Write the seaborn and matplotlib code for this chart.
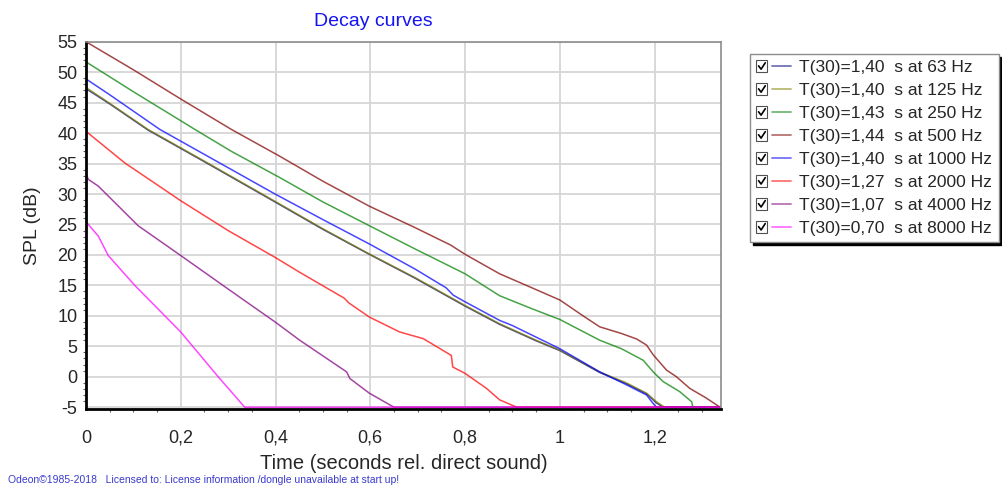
import matplotlib
matplotlib.use('Agg')
import matplotlib.pyplot as plt
from matplotlib.lines import Line2D
from matplotlib.patches import Rectangle
from matplotlib.legend_handler import HandlerBase
from matplotlib.ticker import MultipleLocator, FuncFormatter
import seaborn as sns
import pandas as pd

# Bandas de octava y tiempos de reverberacion T(30)
BANDAS = [63, 125, 250, 500, 1000, 2000, 4000, 8000]
T30 = [1.40, 1.40, 1.43, 1.44, 1.40, 1.27, 1.07, 0.70]
COLORES = ['#000080', '#808000', '#008000', '#800000',
           '#0000FF', '#FF0000', '#800080', '#FF00FF']

# Curvas de decaimiento (tiempo en s, SPL en dB)
t_63 = [0, 0.05, 0.131, 0.25, 0.399, 0.5, 0.598, 0.694, 0.8, 0.873, 0.95, 1.0, 1.084, 1.14, 1.183, 1.204, 1.218, 1.34]
spl_63 = [47.3, 44.8, 40.5, 35.3, 28.7, 24.2, 20.1, 16.2, 11.6, 8.6, 5.9, 4.3, 0.7, -1.1, -2.8, -4.3, -5.0, -5.0]

t_125 = [0, 0.05, 0.131, 0.25, 0.399, 0.5, 0.598, 0.694, 0.8, 0.873, 0.95, 1.0, 1.084, 1.14, 1.183, 1.204, 1.221, 1.34]
spl_125 = [47.5, 44.9, 40.6, 35.4, 28.8, 24.3, 20.15, 16.3, 11.7, 8.7, 6.0, 4.35, 0.8, -1.0, -2.7, -4.1, -5.0, -5.0]

t_250 = [0, 0.1, 0.23, 0.307, 0.409, 0.5, 0.598, 0.694, 0.8, 0.873, 0.94, 1.0, 1.084, 1.13, 1.176, 1.197, 1.218, 1.253, 1.278, 1.281, 1.34]
spl_250 = [51.7, 46.8, 40.6, 37.0, 32.7, 28.7, 24.8, 21.0, 16.9, 13.3, 11.2, 9.4, 6.0, 4.6, 2.7, 0.8, -0.8, -2.45, -4.1, -5.0, -5.0]

t_500 = [0, 0.05, 0.1, 0.2, 0.307, 0.409, 0.5, 0.598, 0.694, 0.77, 0.8, 0.873, 0.95, 1.0, 1.049, 1.084, 1.13, 1.162, 1.183, 1.197, 1.225, 1.246, 1.274, 1.309, 1.338, 1.34]
spl_500 = [55.0, 52.7, 50.4, 45.6, 40.6, 36.2, 32.1, 28.0, 24.5, 21.6, 20.1, 16.9, 14.3, 12.6, 10.0, 8.2, 7.1, 6.2, 5.2, 3.6, 1.1, 0.0, -1.9, -3.5, -5.0, -5.0]

t_1000 = [0, 0.05, 0.156, 0.25, 0.399, 0.5, 0.598, 0.694, 0.76, 0.775, 0.8, 0.873, 0.9, 1.0, 1.084, 1.14, 1.183, 1.197, 1.204, 1.34]
spl_1000 = [48.9, 46.3, 40.6, 36.5, 30.0, 25.8, 21.8, 17.7, 14.6, 13.4, 12.3, 9.25, 8.4, 4.6, 0.8, -1.3, -3.0, -4.4, -5.0, -5.0]

t_2000 = [0, 0.082, 0.2, 0.3, 0.399, 0.451, 0.545, 0.555, 0.598, 0.662, 0.712, 0.771, 0.774, 0.8, 0.845, 0.873, 0.909, 1.34]
spl_2000 = [40.3, 35.1, 28.9, 24.0, 19.6, 17.15, 12.9, 12.1, 9.8, 7.35, 6.25, 3.5, 1.6, 0.55, -1.9, -3.8, -5.0, -5.0]

t_4000 = [0, 0.005, 0.026, 0.11, 0.2, 0.3, 0.399, 0.451, 0.55, 0.557, 0.598, 0.65, 1.34]
spl_4000 = [33.4, 32.4, 31.3, 24.8, 19.9, 14.4, 9.0, 6.0, 0.8, -0.3, -2.7, -5.0, -5.0]

t_8000 = [0, 0.005, 0.026, 0.047, 0.103, 0.2, 0.279, 0.335, 1.34]
spl_8000 = [25.4, 25.0, 23.1, 19.9, 15.0, 7.35, 0.0, -5.0, -5.0]

TIEMPOS = [t_63, t_125, t_250, t_500, t_1000, t_2000, t_4000, t_8000]
NIVELES = [spl_63, spl_125, spl_250, spl_500, spl_1000, spl_2000, spl_4000, spl_8000]


class ManejadorCasilla(HandlerBase):
    """Dibuja una casilla marcada seguida de la muestra de linea."""
    def create_artists(self, legend, orig_handle, xdescent, ydescent,
                       width, height, fontsize, trans):
        x0 = -xdescent
        yc = -ydescent + height / 2
        s = 8.2
        caja = Rectangle((x0, yc - s / 2), s, s, facecolor='white',
                         edgecolor='#505050', lw=0.8, transform=trans)
        marca = Line2D([x0 + 1.8, x0 + 3.6, x0 + 6.6], [yc + 0.2, yc - 2.2, yc + 2.4],
                       color='black', lw=1.2, transform=trans)
        linea = Line2D([x0 + s + 3.6, x0 + width], [yc, yc],
                       color=orig_handle.get_color(), lw=1.3, alpha=0.55, transform=trans)
        return [caja, marca, linea]


# Tabla larga para seaborn
filas = []
for banda, ts, ys in zip(BANDAS, TIEMPOS, NIVELES):
    for t, y in zip(ts, ys):
        filas.append({'time': t, 'spl': y, 'band': f'{banda} Hz'})
datos = pd.DataFrame(filas)
orden = [f'{b} Hz' for b in BANDAS]

sns.set_style('white')
plt.rcParams['font.family'] = ['Liberation Sans', 'DejaVu Sans']
plt.rcParams['axes.unicode_minus'] = False

fig = plt.figure(figsize=(10.03, 4.86), dpi=100)
ax = fig.add_axes([0.0857, 0.1584, 0.6331, 0.7557])

sns.lineplot(data=datos, x='time', y='spl', hue='band', hue_order=orden,
             palette=COLORES, estimator=None, sort=False, linewidth=1.1,
             alpha=0.72, legend=False, ax=ax)

ax.set_xlim(0, 1.34)
ax.set_ylim(-5.3, 55)
ax.xaxis.set_major_locator(MultipleLocator(0.2))
ax.xaxis.set_minor_locator(MultipleLocator(0.05))
ax.set_yticks(range(-5, 56, 5))
ax.yaxis.set_minor_locator(MultipleLocator(1))
ax.xaxis.set_major_formatter(FuncFormatter(lambda v, p: ('%g' % round(v, 2)).replace('.', ',')))

ax.grid(True, which='major', color='#D6D6D6', lw=1.3)
ax.set_axisbelow(True)
ax.tick_params(axis='both', which='major', labelsize=13, length=4, width=1, color='#606060')
ax.tick_params(axis='both', which='minor', length=2.5, width=0.8, color='#606060', bottom=True, left=True)
ax.tick_params(axis='x', which='major', pad=11)
ax.tick_params(axis='y', which='major', pad=2)

for lado in ['left', 'bottom']:
    ax.spines[lado].set_color('black')
    ax.spines[lado].set_linewidth(2)
for lado in ['top', 'right']:
    ax.spines[lado].set_color('#8C8C8C')
    ax.spines[lado].set_linewidth(1.2)

ax.set_xlabel('Time (seconds rel. direct sound)', fontsize=14.5, labelpad=5)
ax.set_ylabel('SPL (dB)', fontsize=14, labelpad=12)

fig.text(373 / 1003, 1 - 22 / 486, 'Decay curves', color='#1414F0',
         fontsize=14, ha='center', va='center')

# Leyenda con casillas marcadas
manejadores = [Line2D([], [], color=c) for c in COLORES]
etiquetas = [f'T(30)={t:.2f}  s at {b} Hz'.replace('.', ',') for t, b in zip(T30, BANDAS)]
leg = ax.legend(manejadores, etiquetas, handler_map={Line2D: ManejadorCasilla()},
                loc='upper left', bbox_to_anchor=(750 / 1003, 1 - 54 / 486),
                bbox_transform=fig.transFigure, borderaxespad=0, fontsize=12.5,
                handlelength=2.0, handletextpad=0.5, labelspacing=0.45,
                borderpad=0.35, fancybox=False, framealpha=1,
                shadow={'color': 'black', 'alpha': 1})
leg.get_frame().set_edgecolor('#8C8C8C')
leg.get_frame().set_linewidth(1)

fig.text(8 / 1003, 1 - 480 / 486,
         'Odeon\u00a91985-2018   Licensed to: License information /dongle unavailable at start up!',
         color='#3A3ACC', fontsize=7.5, ha='left', va='center')

fig.savefig('out.png', dpi=100)
